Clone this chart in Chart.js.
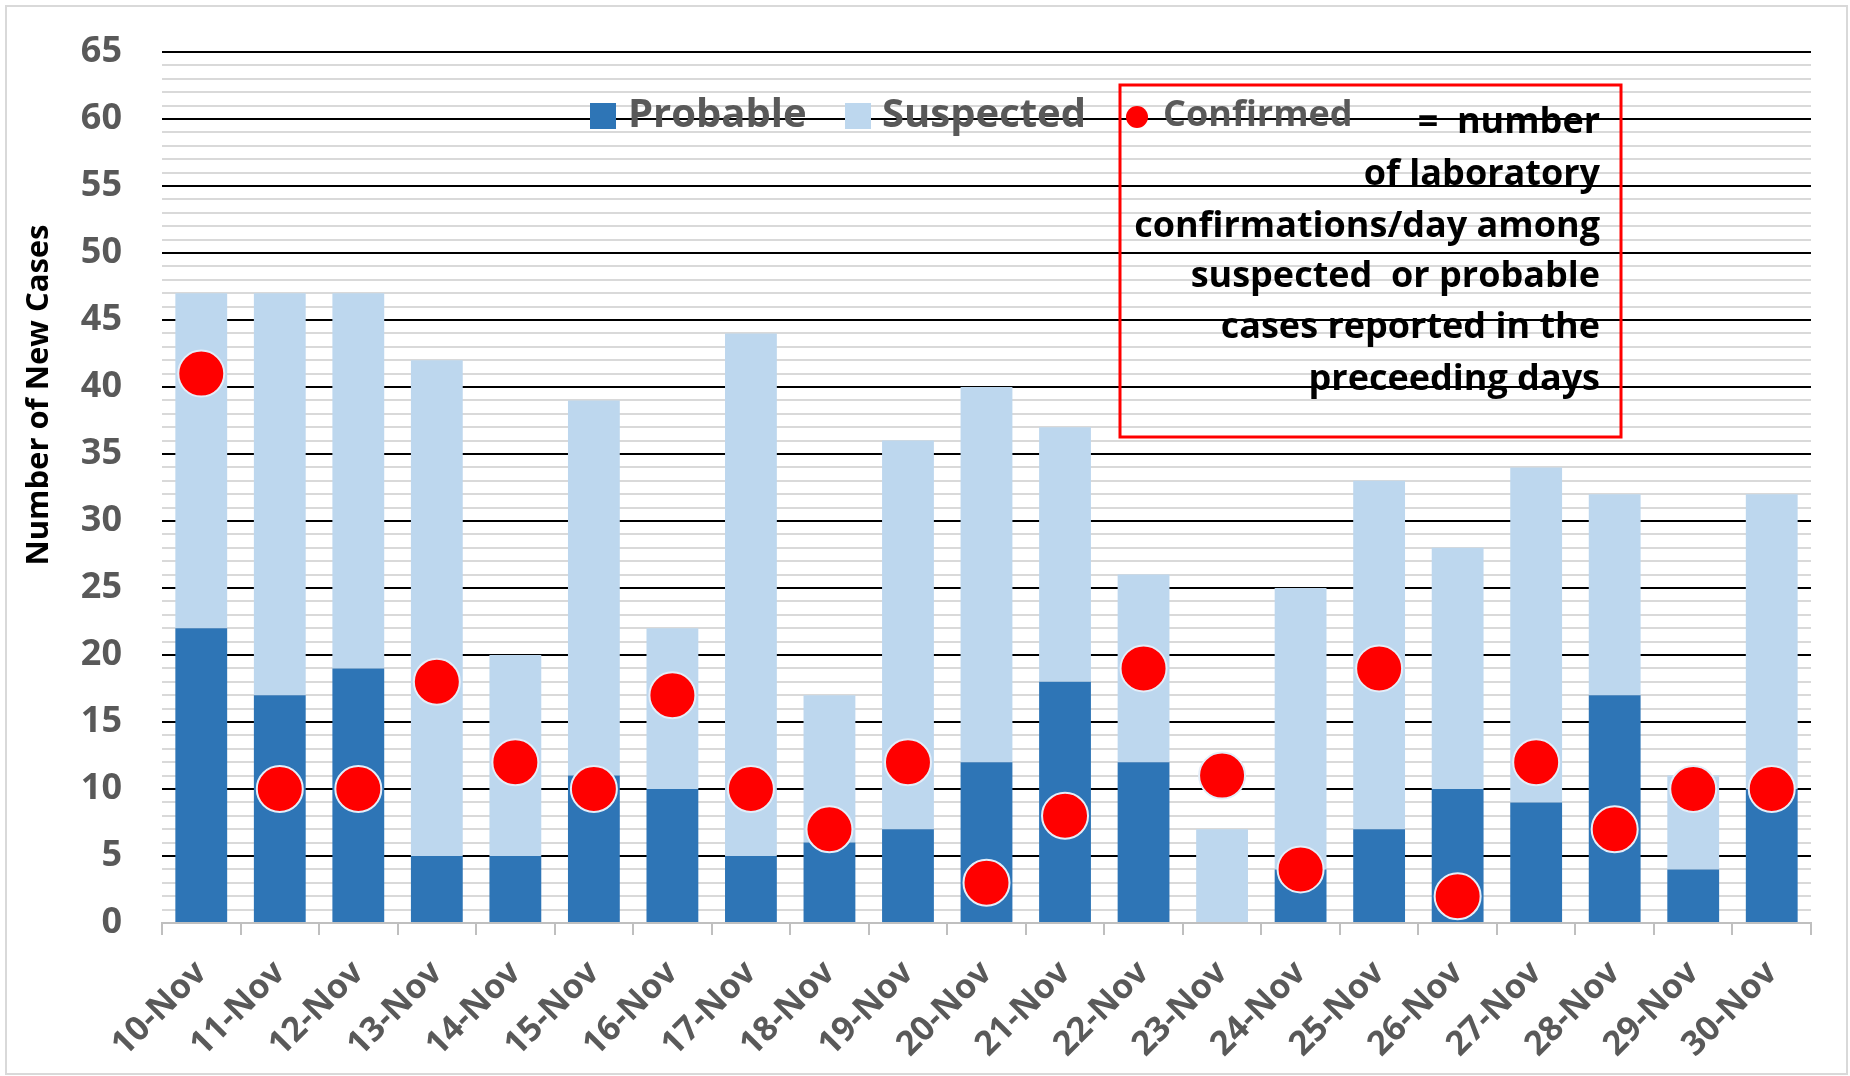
<!DOCTYPE html>
<html>
<head>
<meta charset="utf-8">
<script src="https://cdn.jsdelivr.net/npm/chart.js@4"></script>
<style>
  body { margin: 0; background: #fff; }
  #frame { position: absolute; left: 5px; top: 5px; width: 1839px; height: 1066px; border: 2px solid #d9d9d9; }
  #myChart { position: absolute; left: 0; top: 0; }
</style>
</head>
<body>
<div id="frame"></div>
<canvas id="myChart" width="1850" height="1076"></canvas>
<script>
const labels = [
    '10-Nov', '11-Nov', '12-Nov', '13-Nov', '14-Nov', '15-Nov', '16-Nov',
    '17-Nov', '18-Nov', '19-Nov', '20-Nov', '21-Nov', '22-Nov', '23-Nov',
    '24-Nov', '25-Nov', '26-Nov', '27-Nov', '28-Nov', '29-Nov', '30-Nov',
];

const probable = [22, 17, 19, 5, 5, 11, 10, 5, 6, 7, 12, 18, 12, 0, 4, 7, 10, 9, 17, 4, 10];
const suspected = [25, 30, 28, 37, 15, 28, 12, 39, 11, 29, 28, 19, 14, 7, 21, 26, 18, 25, 15, 7, 22];
const confirmed = [41, 10, 10, 18, 12, 10, 17, 10, 7, 12, 3, 8, 19, 11, 4, 19, 2, 12, 7, 10, 10];

const noteLines = [
    '=  number',
    'of laboratory',
    'confirmations/day among',
    'suspected  or probable',
    'cases reported in the',
    'preceeding days',
];

const FONT = "'Open Sans', 'Liberation Sans', sans-serif";

// legend, note box and y title drawn on top
const overlay = {
    id: 'overlay',
    afterDraw(chart) {
        const ctx = chart.ctx;
        const ds = chart.data.datasets;
        ctx.save();

        // y axis title
        ctx.save();
        ctx.translate(39, 395);
        ctx.rotate(-Math.PI / 2);
        ctx.font = "bold 31px " + FONT;
        ctx.fillStyle = '#000';
        ctx.textAlign = 'center';
        ctx.textBaseline = 'middle';
        ctx.fillText('Number of New Cases', 0, 0);
        ctx.restore();

        // legend
        ctx.textBaseline = 'middle';
        ctx.textAlign = 'left';
        ctx.fillStyle = ds[1].backgroundColor;
        ctx.fillRect(590, 103, 26, 26);
        ctx.fillStyle = ds[2].backgroundColor;
        ctx.fillRect(845, 103, 26, 26);
        ctx.fillStyle = '#595959';
        ctx.font = "bold 40px " + FONT;
        ctx.fillText(ds[1].label, 628, 116);
        ctx.fillText(ds[2].label, 882, 116);

        ctx.beginPath();
        ctx.arc(1137, 117, 11, 0, Math.PI * 2);
        ctx.fillStyle = ds[0].pointBackgroundColor;
        ctx.fill();
        ctx.fillStyle = '#595959';
        ctx.font = "bold 36px " + FONT;
        ctx.fillText(ds[0].label, 1163, 116);

        // note box
        ctx.strokeStyle = '#ff0000';
        ctx.lineWidth = 3;
        ctx.strokeRect(1120, 85, 501, 352);
        ctx.fillStyle = '#000';
        ctx.textAlign = 'right';
        ctx.font = "bold 36px " + FONT;
        const ys = [123, 175, 227, 277, 328, 380];
        noteLines.forEach((t, i) => ctx.fillText(t, 1600, ys[i]));

        ctx.restore();
    }
};

const data = {
    labels: labels,
    datasets: [{
        type: 'line',
        label: 'Confirmed',
        data: confirmed,
        showLine: false,
        pointRadius: 23,
        pointBackgroundColor: '#ff0000',
        pointBorderColor: '#e4eef9',
        pointBorderWidth: 2,
        order: 0,
    }, {
        label: 'Probable',
        data: probable,
        backgroundColor: '#2e75b6',
        stack: 'cases',
        order: 1,
    }, {
        label: 'Suspected',
        data: suspected,
        backgroundColor: '#bdd7ee',
        stack: 'cases',
        order: 1,
    }]
};

const config = {
    type: 'bar',
    data: data,
    options: {
        responsive: false,
        animation: false,
        devicePixelRatio: 1,
        categoryPercentage: 1,
        barPercentage: 0.66,
        layout: { padding: { top: 52, right: 39, bottom: 0, left: 0 } },
        plugins: {
            legend: { display: false },
            tooltip: { enabled: false },
        },
        scales: {
            x: {
                stacked: true,
                grid: {
                    offset: true,
                    drawOnChartArea: false,
                    drawTicks: true,
                    tickLength: 12,
                    color: '#bfbfbf',
                    lineWidth: 2,
                },
                border: { display: true, color: '#bfbfbf', width: 2 },
                ticks: {
                    color: '#595959',
                    font: { family: FONT, weight: 'bold', size: 34 },
                    minRotation: 45,
                    maxRotation: 45,
                    autoSkip: false,
                    padding: 18,
                },
                afterFit: (s) => { s.height = 153; },
            },
            y: {
                stacked: true,
                min: 0,
                max: 65,
                border: { display: false },
                grid: {
                    drawTicks: false,
                    color: (c) => {
                        const v = c.tick.value;
                        if (v === 0) return 'rgba(0,0,0,0)';
                        return v % 5 === 0 ? '#000000' : '#d9d9d9';
                    },
                    lineWidth: 2,
                },
                ticks: {
                    stepSize: 1,
                    autoSkip: false,
                    padding: 40,
                    color: '#595959',
                    font: { family: FONT, weight: 'bold', size: 36 },
                    callback: (v) => (v % 5 === 0 ? v : ''),
                },
                afterFit: (s) => {
                    s.width = 162;
                    // tick padding is horizontal here, keep it out of the top/bottom room
                    s.paddingTop = 22;
                    s.paddingBottom = 22;
                },
            }
        }
    },
    plugins: [overlay]
};

const myChart = new Chart(
    document.getElementById('myChart'),
    config
);
</script>
</body>
</html>
